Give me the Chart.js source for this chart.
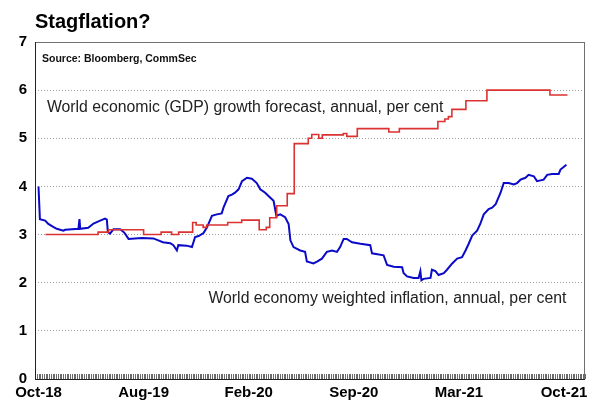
<!DOCTYPE html>
<html>
<head>
<meta charset="utf-8">
<script src="https://cdn.jsdelivr.net/npm/chart.js@4.4.1/dist/chart.umd.min.js"></script>
<style>
html,body{margin:0;padding:0;background:#fff;}
#wrap{width:596px;height:407px;}
</style>
</head>
<body>
<div id="wrap"><canvas id="c" width="596" height="407"></canvas></div>
<script>
// ---- data (x = trading-period index from Oct-18) ----
const tickIdx = [0, 30, 60, 90, 120, 150];
const tickLabels = ['Oct-18', 'Aug-19', 'Feb-20', 'Sep-20', 'Mar-21', 'Oct-21'];
const yTicks = [0, 1, 2, 3, 4, 5, 6, 7];

const gdpIdx = [2,17,20,30,35,38,40,44,45,47,48,54,58,63,65,66,68,71,73,77,78,80,81,87,88,91,100,103,114,116,117,118,122,128,146,151];
const gdpVal = [3.0,3.05,3.1,3.0,3.05,3.0,3.05,3.25,3.2,3.15,3.2,3.25,3.3,3.1,3.15,3.35,3.6,3.85,4.89,5.0,5.08,5.0,5.07,5.1,5.04,5.2,5.13,5.2,5.35,5.4,5.45,5.6,5.78,6.0,5.9,5.9];

const inflIdx = [0,0.4,1.9,2.8,4.2,5.2,7.1,7.6,11.4,11.7,11.9,14.2,15.7,17.6,19,19.5,19.8,20.4,21.4,23.3,24.2,24.7,25.7,29.5,32.8,34.2,35.5,37.6,38.5,39.5,39.9,42.3,43.8,44.7,45.7,47.1,48.1,49.5,50.9,52.3,52.8,54.2,55.2,56.1,57.1,58.1,59.5,60.9,62.3,63.3,64.7,66.1,67.1,67.9,69,70.4,71.4,71.9,72.8,74.7,76.1,76.6,78.5,79.5,80.9,82.3,83.8,85.2,86.1,87.1,88,89.5,91.9,94.7,95.2,98.5,99.5,101.4,103.8,104.2,105.2,107.1,108.5,109,109.3,109.9,111.9,112.3,113.3,114.2,115.7,116.6,118.1,119.5,120.9,121.9,122.8,123.8,125.2,126.1,127.1,128.5,129.5,130.5,131.9,132.8,134.2,135.7,136.6,137.6,139,139.9,141.4,142.3,144.2,145.2,146.6,148.5,149,150.7];
const inflVal = [4.0,3.32,3.29,3.22,3.16,3.12,3.08,3.1,3.12,3.32,3.12,3.14,3.23,3.29,3.33,3.31,3.05,3.02,3.11,3.11,3.06,3.02,2.91,2.93,2.92,2.88,2.84,2.82,2.78,2.67,2.78,2.77,2.74,2.95,2.97,3.03,3.15,3.39,3.42,3.44,3.56,3.8,3.83,3.87,3.94,4.11,4.18,4.16,4.07,3.94,3.87,3.77,3.7,3.39,3.42,3.36,3.22,2.88,2.74,2.67,2.64,2.44,2.4,2.44,2.5,2.64,2.67,2.64,2.74,2.91,2.91,2.84,2.81,2.78,2.61,2.57,2.37,2.33,2.32,2.2,2.13,2.1,2.1,2.24,2.05,2.08,2.1,2.27,2.24,2.16,2.2,2.27,2.4,2.5,2.53,2.67,2.81,2.98,3.08,3.22,3.42,3.53,3.56,3.63,3.87,4.07,4.07,4.04,4.07,4.14,4.18,4.24,4.21,4.11,4.14,4.24,4.26,4.26,4.35,4.45];

const titleText = 'Stagflation?';
const sourceText = 'Source: Bloomberg, CommSec';
const gdpLabel = 'World economic (GDP) growth forecast, annual, per cent';
const inflLabel = 'World economy weighted inflation, annual, per cent';

const FONT = '"Liberation Sans", Arial, Helvetica, sans-serif';

const toPts = (xs, ys) => xs.map((x, i) => ({x: x, y: ys[i]}));

const decor = {
  id: 'decor',
  beforeDatasetsDraw(chart) {
    const {ctx, chartArea: a, scales: {x}} = chart;
    ctx.save();
    // inward tick marks along the bottom axis
    ctx.strokeStyle = '#6a6a6a';
    ctx.lineWidth = 1;
    ctx.beginPath();
    for (let v = x.min; v <= x.max; v += 0.5) {
      const px = Math.round(x.getPixelForValue(v)) + 0.5;
      ctx.moveTo(px, a.bottom);
      ctx.lineTo(px, a.bottom - 5);
    }
    ctx.stroke();
    ctx.restore();
  },
  afterDatasetsDraw(chart) {
    const {ctx, chartArea: a, scales: {x, y}} = chart;
    ctx.save();
    // frame
    ctx.strokeStyle = '#707070';
    ctx.lineWidth = 1;
    ctx.strokeRect(Math.round(a.left) + 0.5, Math.round(a.top) + 0.5,
                   Math.round(a.right - a.left) - 1, Math.round(a.bottom - a.top));
    ctx.strokeStyle = '#222';
    ctx.beginPath();
    ctx.moveTo(Math.round(a.left) + 0.5, a.top);
    ctx.lineTo(Math.round(a.left) + 0.5, a.bottom);
    ctx.moveTo(a.left, Math.round(a.bottom) + 0.5);
    ctx.lineTo(a.right, Math.round(a.bottom) + 0.5);
    ctx.stroke();
    // texts
    ctx.fillStyle = '#111';
    ctx.textBaseline = 'alphabetic';
    ctx.textAlign = 'left';
    ctx.font = 'bold 10.5px ' + FONT;
    ctx.fillText(sourceText, a.left + 7, a.top + 20);
    ctx.font = '15.8px ' + FONT;
    ctx.fillStyle = '#222';
    ctx.fillText(gdpLabel, x.getPixelForValue(2.4), y.getPixelForValue(5.55));
    ctx.textAlign = 'right';
    ctx.fillText(inflLabel, x.getPixelForValue(150.7), y.getPixelForValue(1.58));
    ctx.restore();
  }
};

new Chart(document.getElementById('c'), {
  type: 'line',
  data: {
    datasets: [
      {
        label: gdpLabel,
        data: toPts(gdpIdx, gdpVal),
        borderColor: 'rgb(220,50,50)',
        borderWidth: 1.6,
        stepped: 'before',
        pointRadius: 0,
        fill: false
      },
      {
        label: inflLabel,
        data: toPts(inflIdx, inflVal),
        borderColor: 'rgb(10,10,200)',
        borderWidth: 2,
        tension: 0,
        pointRadius: 0,
        fill: false
      }
    ]
  },
  options: {
    responsive: false,
    animation: false,
    devicePixelRatio: 1,
    layout: {padding: {left: 0, right: 11, top: 0, bottom: 0}},
    plugins: {
      legend: {display: false},
      tooltip: {enabled: false},
      title: {
        display: true,
        text: titleText,
        align: 'start',
        fullSize: false,
        color: '#000',
        font: {family: FONT, size: 20, weight: 'bold', lineHeight: 1.2},
        padding: {top: 10, bottom: 8}
      }
    },
    scales: {
      x: {
        type: 'linear',
        min: -1,
        max: 156,
        afterBuildTicks: (s) => { s.ticks = tickIdx.map(v => ({value: v})); },
        ticks: {
          autoSkip: false,
          maxRotation: 0,
          minRotation: 0,
          padding: 5,
          color: '#000',
          font: {family: FONT, size: 15, weight: 'bold', lineHeight: 1.2},
          callback: (v) => { const i = tickIdx.indexOf(v); return i >= 0 ? tickLabels[i] : ''; }
        },
        grid: {display: false, drawTicks: false},
        border: {display: false}
      },
      y: {
        min: 0,
        max: 7,
        afterBuildTicks: (s) => { s.ticks = yTicks.map(v => ({value: v})); },
        afterFit: (s) => { s.width = 35; },
        ticks: {
          padding: 8,
          color: '#000',
          font: {family: FONT, size: 15, weight: 'bold', lineHeight: 1.2}
        },
        grid: {
          drawTicks: false,
          lineWidth: 1,
          color: (c) => (c.tick && (c.tick.value === 0 || c.tick.value === 7)) ? 'rgba(0,0,0,0)' : '#a0a0a0'
        },
        border: {display: false, dash: [1, 2]}
      }
    }
  },
  plugins: [decor]
});
</script>
</body>
</html>
